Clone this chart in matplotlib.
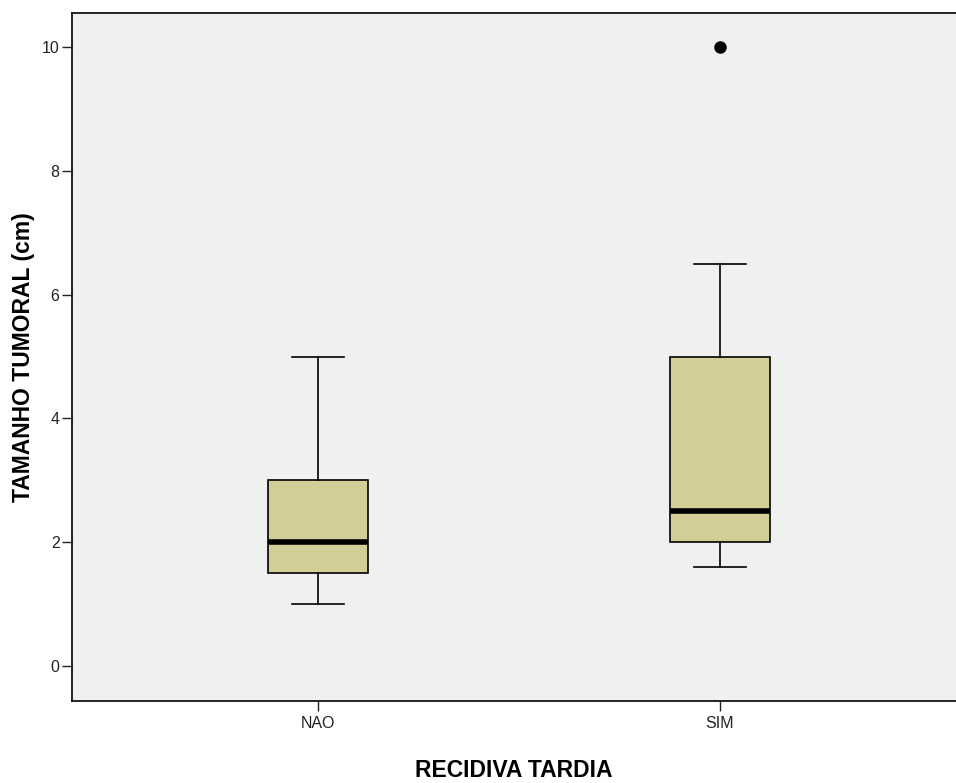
import matplotlib
matplotlib.use("Agg")
import matplotlib.pyplot as plt

plt.rcParams['font.family'] = ['Liberation Sans', 'DejaVu Sans']

# Dados
grupos = ["NAO", "SIM"]
minimo = [1.0, 1.6]
q1 = [1.5, 2.0]
mediana = [2.0, 2.5]
q3 = [3.0, 5.0]
maximo = [5.0, 6.5]
outliers = [[], [10.0]]

stats = []
for i, g in enumerate(grupos):
    stats.append(dict(label=g, whislo=minimo[i], q1=q1[i], med=mediana[i],
                      q3=q3[i], whishi=maximo[i], fliers=outliers[i]))

fig = plt.figure(figsize=(9.56, 7.83), dpi=100)
ax = fig.add_axes([72/956, 82/783, 1 - 72/956, 688/783])
ax.set_facecolor('#f0f0f0')

ax.bxp(stats, positions=[1, 2], widths=0.25, patch_artist=True,
       boxprops=dict(facecolor='#d3ce97', edgecolor='black', linewidth=1.2),
       medianprops=dict(color='black', linewidth=4),
       whiskerprops=dict(color='black', linewidth=1.2),
       capprops=dict(color='black', linewidth=1.2),
       capwidths=0.13,
       flierprops=dict(marker='o', markerfacecolor='black', markeredgecolor='black',
                       markersize=8))

ax.set_xlim(0.388, 2.587)
ax.set_ylim(-0.565, 10.55)
ax.set_yticks([0, 2, 4, 6, 8, 10])
ax.spines['right'].set_visible(False)
for s in ['left', 'top', 'bottom']:
    ax.spines[s].set_linewidth(1.2)
ax.tick_params(axis='both', labelsize=11.5, length=7, width=1, colors='#222222')
ax.tick_params(axis='y', pad=2)
ax.tick_params(axis='x', pad=4)
ax.set_xlabel("RECIDIVA TARDIA", fontsize=16.5, fontweight='bold', labelpad=20)
ax.set_ylabel("TAMANHO TUMORAL (cm)", fontsize=16.5, fontweight='bold', labelpad=5)

fig.savefig("out.png", dpi=100)
